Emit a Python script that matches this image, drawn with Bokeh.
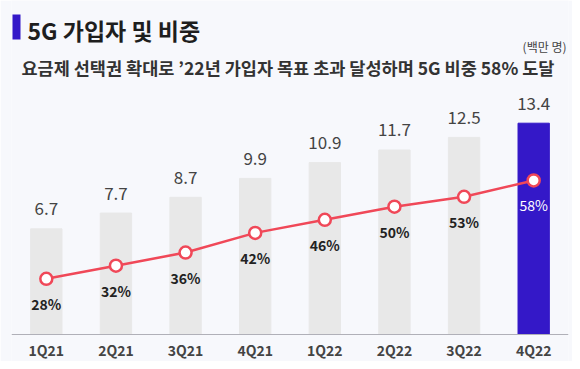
from bokeh.plotting import figure
from bokeh.models import ColumnDataSource, Range1d, Label, BoxAnnotation
from bokeh.core.properties import value
from bokeh.embed import file_html
from bokeh.resources import INLINE

quarters = ["1Q21", "2Q21", "3Q21", "4Q21", "1Q22", "2Q22", "3Q22", "4Q22"]
subscribers = [6.7, 7.7, 8.7, 9.9, 10.9, 11.7, 12.5, 13.4]
share_pct = [28, 32, 36, 42, 46, 50, 53, 58]

title_text = "5G 가입자 및 비중"
subtitle_text = "요금제 선택권 확대로 \u201922년 가입자 목표 초과 달성하며 5G 비중 58% 도달"
unit_text = "(백만 명)"

BG = "#f7f8fc"
GRAY = "#e8e8e8"
PURPLE = "#3418c8"
RED = "#f04858"
FONT = "Noto Sans CJK KR"

bar_colors = [GRAY] * (len(quarters) - 1) + [PURPLE]
pct_colors = ["#222222"] * (len(quarters) - 1) + ["#ffffff"]
pct_weights = ["bold"] * (len(quarters) - 1) + ["normal"]

src = ColumnDataSource(dict(
    q=quarters,
    v=subscribers,
    vlab=[f"{v:.1f}" for v in subscribers],
    p=share_pct,
    plab=[f"{p}%" for p in share_pct],
    bc=bar_colors,
    pc=pct_colors,
    pw=pct_weights,
))

W, H = 572, 361
p = figure(x_range=quarters, y_range=Range1d(-1.712, 21.18),
           width=W, height=H, output_backend="svg", toolbar_location=None,
           y_axis_location=None, min_border_left=11, min_border_right=4,
           min_border_top=0, min_border_bottom=0)
p.extra_y_ranges = {"pct": Range1d(2.76, 112.9)}

p.background_fill_color = BG
p.border_fill_color = BG
p.outline_line_color = None
p.xgrid.visible = False
p.ygrid.visible = False

p.xaxis.fixed_location = 0
p.xaxis.axis_line_color = "#b0b0b8"
p.xaxis.axis_line_width = 1
p.xaxis.major_tick_line_color = None
p.xaxis.minor_tick_line_color = None
p.xaxis.major_tick_out = 0
p.xaxis.major_tick_in = 0
p.xaxis.major_label_standoff = 5
p.xaxis.major_label_text_font = FONT
p.xaxis.major_label_text_font_size = "14px"
p.xaxis.major_label_text_font_style = "bold"
p.xaxis.major_label_text_color = "#444444"

p.vbar(x="q", top="v", width=0.45, color="bc", source=src)

p.text(x="q", y="v", text="vlab", source=src, text_align="center",
       text_baseline="middle", y_offset=-20, text_font=value(FONT),
       text_font_size="17px", text_color="#444444")

p.line(x="q", y="p", source=src, y_range_name="pct", color=RED, line_width=2.5)
p.scatter(x="q", y="p", source=src, y_range_name="pct", size=12,
          fill_color="white", line_color=RED, line_width=2.5)

p.text(x="q", y="p", text="plab", source=src, y_range_name="pct",
       text_align="center", text_baseline="middle", y_offset=25,
       text_font=value(FONT), text_font_size="14px",
       text_font_style="pw", text_color="pc")

# header (screen units relative to the plot frame: x from left, y up from bottom)
FB = 361  # frame bottom in picture pixels
FL = 11   # frame left in picture pixels
p.add_layout(BoxAnnotation(left=12 - FL, right=20 - FL, top=FB - 14, bottom=FB - 39,
                           left_units="screen", right_units="screen",
                           top_units="screen", bottom_units="screen",
                           fill_color=PURPLE, fill_alpha=1, line_color=None,
                           level="overlay"))
p.add_layout(Label(x=27 - FL, y=FB - 29, x_units="screen", y_units="screen",
                   text=title_text, text_font=FONT, text_font_size="23px",
                   text_font_style="bold", text_color="#1e1e1e",
                   text_baseline="middle"))
p.add_layout(Label(x=21 - FL, y=FB - 67, x_units="screen", y_units="screen",
                   text=subtitle_text, text_font=FONT, text_font_size="17.5px",
                   text_font_style="bold", text_color="#333333",
                   text_baseline="middle"))
p.add_layout(Label(x=566 - FL, y=FB - 46, x_units="screen", y_units="screen",
                   text=unit_text, text_font=FONT, text_font_size="12px",
                   text_color="#444444", text_baseline="middle",
                   text_align="right"))

open("out.html", "w").write(file_html(p, INLINE))
